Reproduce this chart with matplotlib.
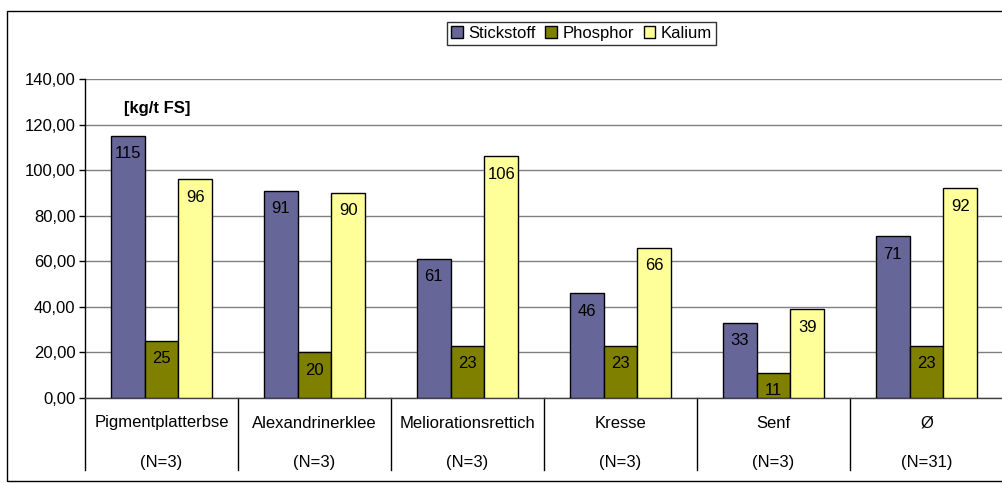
import matplotlib
matplotlib.use("Agg")
import matplotlib.pyplot as plt
import numpy as np
from matplotlib.patches import Rectangle
from matplotlib.lines import Line2D

plt.rcParams['font.family'] = ['Liberation Sans', 'DejaVu Sans']

categories = ["Pigmentplatterbse", "Alexandrinerklee", "Meliorationsrettich", "Kresse", "Senf", "Ø"]
sample_sizes = ["(N=3)", "(N=3)", "(N=3)", "(N=3)", "(N=3)", "(N=31)"]
series_names = ["Stickstoff", "Phosphor", "Kalium"]
stickstoff = [115, 91, 61, 46, 33, 71]
phosphor = [25, 20, 23, 23, 11, 23]
kalium = [96, 90, 106, 66, 39, 92]
yticks = [0, 20, 40, 60, 80, 100, 120, 140]

colors = ["#666699", "#808000", "#FFFF99"]
FS = 12

W, H = 1003, 483
fig = plt.figure(figsize=(W / 100, H / 100), dpi=100)

# outer chart border
fig.patches.append(Rectangle((7 / W, 2 / H), (W + 10) / W, (472 - 2) / H,
                             transform=fig.transFigure, fill=False,
                             edgecolor="black", linewidth=1.0))

left, right, top, bottom = 85, 1003, 79, 398
ax = fig.add_axes([left / W, (H - bottom) / H, (right - left) / W, (bottom - top) / H])

n = len(categories)
x = np.arange(n)
bw = 0.222
series = [stickstoff, phosphor, kalium]
for i, (vals, c, name) in enumerate(zip(series, colors, series_names)):
    pos = x + (i - 1) * bw
    bars = ax.bar(pos, vals, width=bw, color=c, edgecolor="black",
                  linewidth=1.0, label=name, zorder=3)
    for b, v in zip(bars, vals):
        ax.annotate(f"{v}", (b.get_x() + b.get_width() / 2, v),
                    xytext=(0, -7.5), textcoords="offset points",
                    ha="center", va="top", fontsize=FS, zorder=4)

ax.set_xlim(-0.5, n - 0.5)
ax.set_ylim(0, 140)
ax.set_yticks(yticks)
ax.set_yticklabels([f"{v:.2f}".replace(".", ",") for v in yticks], fontsize=FS)
ax.yaxis.grid(True, color="#808080", linewidth=1.0, zorder=0)
ax.set_axisbelow(True)
ax.tick_params(axis="y", direction="out", length=4, width=1, pad=3)
ax.set_xticks([])

for side in ["top", "right"]:
    ax.spines[side].set_visible(False)
ax.spines["left"].set_linewidth(1.0)
ax.spines["bottom"].set_linewidth(1.0)
ax.spines["bottom"].set_color("#404040")

# two-level category labels with separators below the axis
xt = ax.get_xaxis_transform()
span = bottom - top
sep_bottom = -(470 - bottom) / span
for k in range(n):
    xs = k - 0.5
    ax.add_line(Line2D([xs, xs], [0, sep_bottom], transform=xt,
                       color="black", linewidth=1.0, clip_on=False))
for k in range(n):
    ax.text(k, -(423 - bottom) / span, categories[k],
            transform=xt, ha="center", va="center", fontsize=FS)
    ax.text(k, -(462 - bottom) / span, sample_sizes[k],
            transform=xt, ha="center", va="center", fontsize=FS)

# unit label inside the plot area
fig.text(124 / W, 1 - 108 / H, "[kg/t FS]", fontsize=FS, fontweight="bold",
         ha="left", va="center")

leg = fig.legend(loc="center", bbox_to_anchor=((445 + 718) / 2 / W, 1 - 33.5 / H),
                 ncol=3, fontsize=FS, frameon=True, fancybox=False,
                 edgecolor="black", handlelength=0.7, handleheight=0.7,
                 handletextpad=0.3, columnspacing=0.6, borderpad=0.25,
                 borderaxespad=0)
leg.get_frame().set_linewidth(1.0)

fig.savefig("out.png", dpi=100)
